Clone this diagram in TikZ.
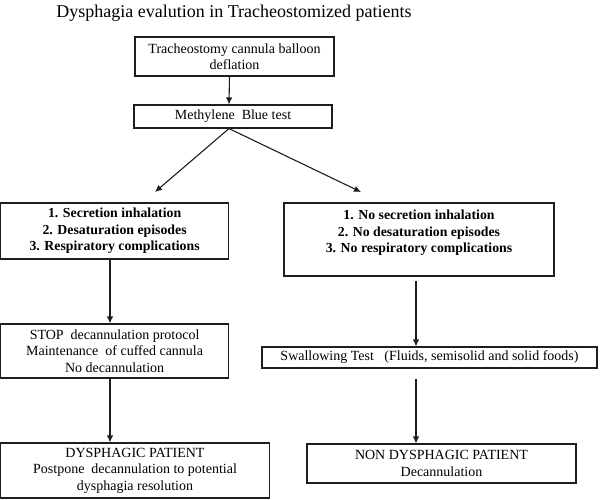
\documentclass[tikz,border=0pt]{standalone}
\usepackage{fontspec}
\setmainfont{Liberation Serif}
\usetikzlibrary{arrows.meta,positioning}
\definecolor{LN}{HTML}{1E1E1E}

\begin{document}
\begin{tikzpicture}[x=1pt, y=-1pt,
    box/.style={draw=LN, line width=1.1pt, align=center, inner sep=0pt,
                font=\fontsize{14}{16.5}\selectfont},
    boldbox/.style={box, font=\fontsize{13.8}{16.5}\selectfont\bfseries},
    arr/.style={draw=LN, line width=1.1pt, -{Latex[length=7pt,width=6.5pt]}}]

    \useasboundingbox (0,0) rectangle (600,499);

    %% title
    \node[anchor=base, font=\fontsize{18}{18}\selectfont]
      (ttl) at (234,17) {Dysphagia evalution in Tracheostomized patients};

    %% top of the chart
    \node[box, minimum width=199pt, minimum height=39pt]
      (bal) at (234.5,56.5) {Tracheostomy cannula balloon\\deflation};
    \node[box, minimum width=198pt, minimum height=23pt]
      (mbt) at (233,116.5) {Methylene\ \ Blue test};

    %% left branch
    \node[boldbox, minimum width=228pt, minimum height=56pt]
      (sym) at (114.6,231) {1. Secretion inhalation\\2. Desaturation episodes\\3. Respiratory complications};
    \node[box, minimum width=228pt, minimum height=54pt]
      (stop) at (114.6,351) {STOP\ \ decannulation protocol\\Maintenance\ \ of cuffed cannula\\No decannulation};
    \node[box, minimum width=269pt, minimum height=55pt]
      (dys) at (135,470.5) {DYSPHAGIC PATIENT\\Postpone\ \ decannulation to potential\\dysphagia resolution};

    %% right branch
    \node[boldbox, minimum width=270pt, minimum height=73pt]
      (nosym) at (419,239.5) {1. No secretion inhalation\\2. No desaturation episodes\\3. No respiratory complications\\\mbox{}};
    \node[box, minimum width=335pt, minimum height=21pt]
      (swal) at (429.5,357.5) {Swallowing Test\ \ \ (Fluids, semisolid and solid foods)};
    \node[box, minimum width=269pt, minimum height=39pt]
      (nondys) at (441.5,463.5) {NON DYSPHAGIC PATIENT\\Decannulation};

    %% connectors
    \coordinate (tipL) at (155,192);
    \coordinate (tipR) at (361,192);
    \draw[arr] ([xshift=-5pt]bal.south) -- ([xshift=-4pt]mbt.north);
    \draw[arr] ([xshift=-4pt]mbt.south) -- (tipL);
    \draw[arr] ([xshift=-4pt]mbt.south) -- (tipR);
    \draw[arr] ([xshift=-4.6pt]sym.south) -- ([xshift=-4.6pt]stop.north);
    \draw[arr] ([xshift=-4.6pt]stop.south) -- ([xshift=-4.6pt]stop.south |- dys.north);
    \draw[arr, shorten <=4pt] ([xshift=-3pt]nosym.south) -- ([xshift=-3pt]nosym.south |- swal.north);
    \draw[arr, shorten <=10pt] ([xshift=-3pt]nosym.south |- swal.south) -- ([xshift=-3pt]nosym.south |- nondys.north);

\end{tikzpicture}
\end{document}
